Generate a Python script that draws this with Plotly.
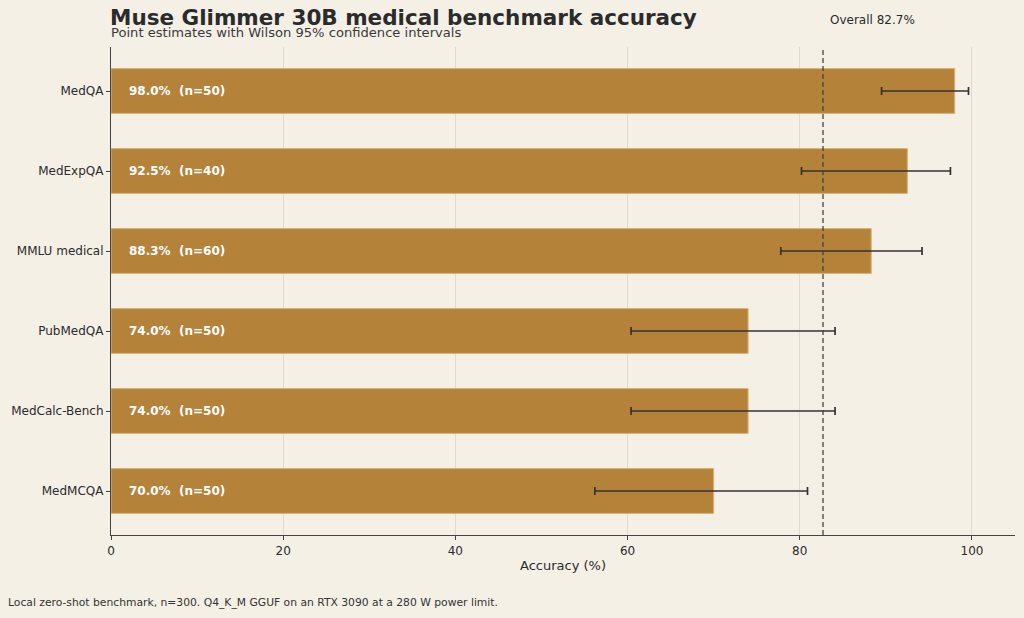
import plotly.graph_objects as go

benchmarks = ["MedQA", "MedExpQA", "MMLU medical", "PubMedQA", "MedCalc-Bench", "MedMCQA"]
accuracy = [98.0, 92.5, 88.3, 74.0, 74.0, 70.0]
n_items = [50, 40, 60, 50, 50, 50]
ci_low = [89.5, 80.2, 77.8, 60.4, 60.4, 56.2]
ci_high = [99.6, 97.5, 94.2, 84.1, 84.1, 80.9]
overall = 82.7
x_ticks = [0, 20, 40, 60, 80, 100]

bg = "#F5F0E6"
bar_col = "#B5823A"
ink = "#2B2B2B"

err_plus = [h - a for h, a in zip(ci_high, accuracy)]
err_minus = [a - l for a, l in zip(accuracy, ci_low)]

fig = go.Figure()
fig.add_trace(go.Bar(
    x=accuracy, y=benchmarks, orientation="h",
    marker=dict(color=bar_col, line=dict(color="#D9B27A", width=1)),
    width=0.56,
    error_x=dict(type="data", symmetric=False, array=err_plus, arrayminus=err_minus,
                 color="#333333", thickness=1.7, width=4),
    hoverinfo="skip", showlegend=False,
))

# labels inside bars
for b, a, n in zip(benchmarks, accuracy, n_items):
    fig.add_annotation(x=1.8, y=b, text=f"{a:.1f}%\u00a0\u00a0(n={n})", showarrow=False,
                       xanchor="left", yanchor="middle",
                       font=dict(family="DejaVu Sans", size=12, color="white", weight="bold"))

fig.add_shape(type="line", x0=overall, x1=overall, yref="paper", y0=0, y1=1,
              line=dict(color="#444444", width=1.3, dash="5px,3px"))
fig.add_annotation(x=overall + 0.6, yref="paper", y=1.055, text=f"Overall {overall}%",
                   showarrow=False, xanchor="left", yanchor="middle",
                   font=dict(family="DejaVu Sans", size=12, color=ink))

fig.add_annotation(xref="paper", yref="paper", x=0, y=1.061, xanchor="left", yanchor="middle",
                   xshift=-3,
                   text="<b>Muse Glimmer 30B medical benchmark accuracy</b>", showarrow=False,
                   font=dict(family="DejaVu Sans", size=21.5, color=ink))
fig.add_annotation(xref="paper", yref="paper", x=0, y=1.030, xanchor="left", yanchor="middle",
                   xshift=-2,
                   text="Point estimates with Wilson 95% confidence intervals", showarrow=False,
                   font=dict(family="DejaVu Sans", size=13.1, color="#3A3A3A"))
fig.add_annotation(xref="paper", yref="paper", x=-0.116, y=-0.139, xanchor="left", yanchor="middle",
                   text="Local zero-shot benchmark, n=300. Q4_K_M GGUF on an RTX 3090 at a 280 W power limit.",
                   showarrow=False, font=dict(family="DejaVu Sans", size=10.75, color="#333333"))

fig.update_layout(
    width=1024, height=618,
    margin=dict(l=111, r=9, t=47, b=83),
    paper_bgcolor=bg, plot_bgcolor=bg,
    font=dict(family="DejaVu Sans", size=12, color=ink),
    xaxis=dict(range=[0, 105], tickvals=x_ticks, showgrid=True, gridcolor="#DEDAD0", gridwidth=1,
               zeroline=False, showline=True, linecolor="#444444", linewidth=1.2,
               ticks="outside", ticklen=4, tickcolor="#444444",
               title=dict(text="Accuracy (%)", font=dict(size=13), standoff=4)),
    yaxis=dict(range=[5.55, -0.55], showgrid=False, zeroline=False, showline=True,
               linecolor="#444444", linewidth=1.2, ticks="outside", ticklen=4, tickcolor="#444444"),
)

fig.write_html("out.html", config={"displayModeBar": False},
               post_script="document.body.style.margin='0';document.body.style.overflow='hidden';"
                           "document.body.style.background='#F5F0E6';")
